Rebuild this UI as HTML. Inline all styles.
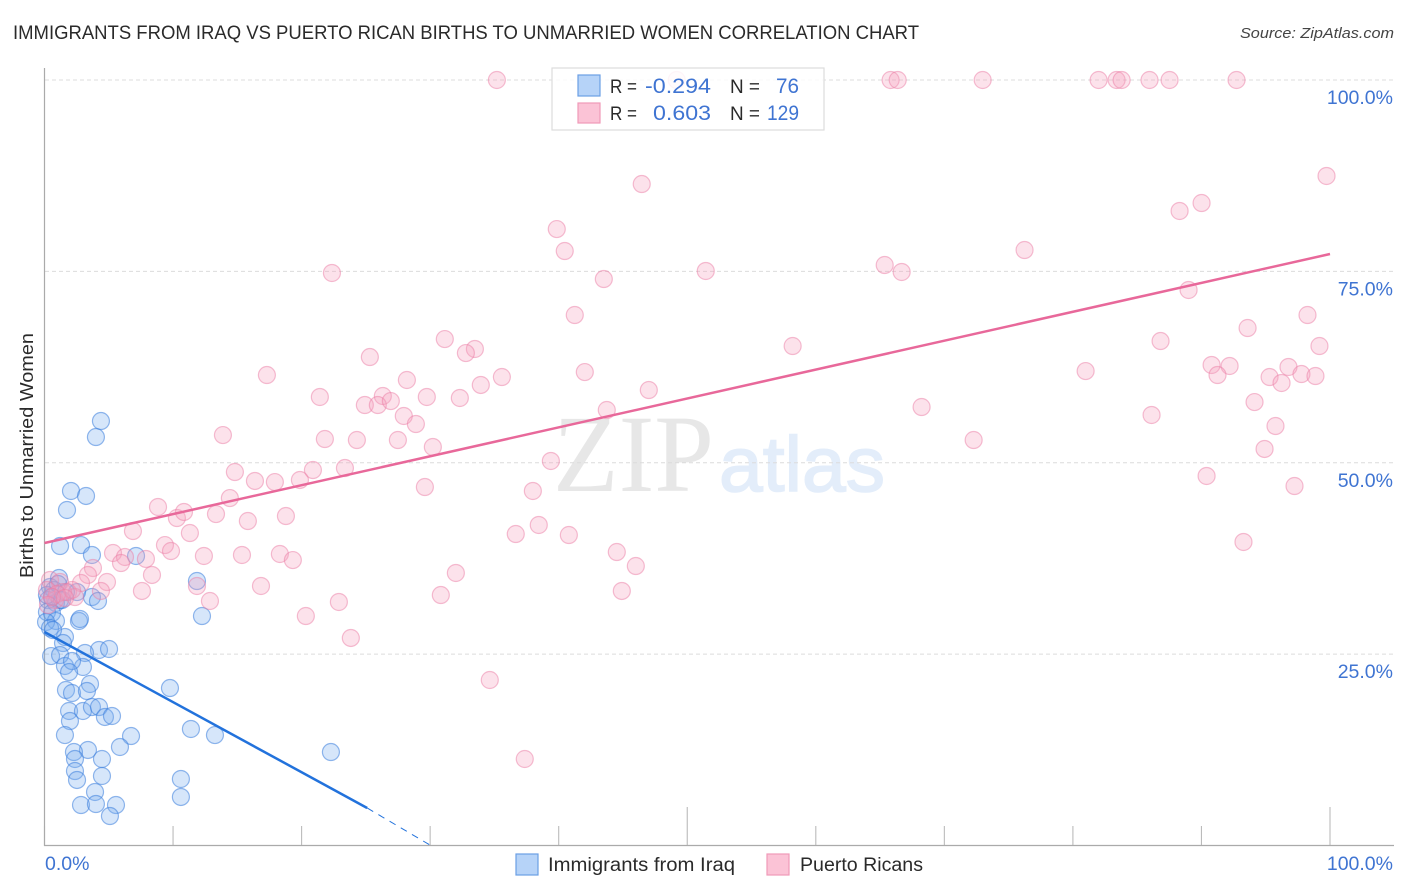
<!DOCTYPE html>
<html lang="en">
<head>
<meta charset="utf-8">
<title>Immigrants from Iraq vs Puerto Rican births to unmarried women correlation chart</title>
<style>
html,body{margin:0;padding:0;background:#fff;width:1406px;height:892px;overflow:hidden}
svg{display:block}
text{font-family:"Liberation Sans",sans-serif}
.blue{fill:#3f74d2}
.dark{fill:#2a2a2a}
</style>
</head>
<body>
<svg id="chart" xmlns="http://www.w3.org/2000/svg" width="1406" height="892" viewBox="0 0 1406 892">
  <text x="13" y="39" font-size="19" fill="#2a2a2a" textLength="906" lengthAdjust="spacingAndGlyphs">IMMIGRANTS FROM IRAQ VS PUERTO RICAN BIRTHS TO UNMARRIED WOMEN CORRELATION CHART</text>
  <text x="1394" y="38" font-size="15" font-style="italic" fill="#444" text-anchor="end" textLength="154" lengthAdjust="spacingAndGlyphs">Source: ZipAtlas.com</text>

  <g id="watermark">
    <text x="553" y="491" font-size="110" fill="#e7e7e7" textLength="161" lengthAdjust="spacingAndGlyphs" style="font-family:'Liberation Serif',serif">ZIP</text>
    <text x="719" y="491" font-size="78" fill="#e3edfa" stroke="#e3edfa" stroke-width="1.6" textLength="166" lengthAdjust="spacingAndGlyphs">atlas</text>
  </g>

  <g id="grid"></g>
  <g id="ticks"></g>
  <line x1="44.5" y1="68" x2="44.5" y2="846" stroke="#aaa" stroke-width="1.2"/>
  <line x1="44" y1="845.5" x2="1394" y2="845.5" stroke="#aaa" stroke-width="1.2"/>
  <g id="points-iraq"></g>
  <g id="points-pr"></g>
  <g id="trends"></g>
  <g id="tick-labels"></g>

  <text transform="translate(33,578) rotate(-90)" font-size="18.5" fill="#2a2a2a" textLength="245" lengthAdjust="spacingAndGlyphs">Births to Unmarried Women</text>

  <g>
    <rect x="552" y="68" width="272" height="62" fill="#fff" fill-opacity="0.85" stroke="#ddd" stroke-width="1.2"/>
    <rect x="578" y="75" width="22" height="21" fill="#b6d3f8" stroke="#6b9fe4" stroke-width="1.2"/>
    <rect x="578" y="103" width="22" height="20" fill="#fbc3d6" stroke="#f09ab8" stroke-width="1.2"/>
    <text x="610" y="93" font-size="19" class="dark" textLength="27" lengthAdjust="spacingAndGlyphs">R =</text>
    <text x="645" y="93" font-size="21" class="blue" textLength="66" lengthAdjust="spacingAndGlyphs">-0.294</text>
    <text x="730" y="93" font-size="19" class="dark" textLength="30" lengthAdjust="spacingAndGlyphs">N =</text>
    <text x="776" y="93" font-size="21" class="blue" textLength="23" lengthAdjust="spacingAndGlyphs">76</text>
    <text x="610" y="120" font-size="19" class="dark" textLength="27" lengthAdjust="spacingAndGlyphs">R =</text>
    <text x="653" y="120" font-size="21" class="blue" textLength="58" lengthAdjust="spacingAndGlyphs">0.603</text>
    <text x="730" y="120" font-size="19" class="dark" textLength="30" lengthAdjust="spacingAndGlyphs">N =</text>
    <text x="767" y="120" font-size="21" class="blue" textLength="32" lengthAdjust="spacingAndGlyphs">129</text>
  </g>

  <g>
    <rect x="516" y="854" width="22" height="21" fill="#b6d3f8" stroke="#6b9fe4" stroke-width="1.2"/>
    <text x="548" y="871" font-size="19" class="dark" textLength="187" lengthAdjust="spacingAndGlyphs">Immigrants from Iraq</text>
    <rect x="767" y="854" width="22" height="21" fill="#fbc3d6" stroke="#f09ab8" stroke-width="1.2"/>
    <text x="800" y="871" font-size="19" class="dark" textLength="123" lengthAdjust="spacingAndGlyphs">Puerto Ricans</text>
  </g>
</svg>
<script>
const iraqX = [4.39,4.00,2.06,3.23,1.75,1.21,2.84,3.69,7.12,1.13,11.86,12.25,3.69,4.16,2.53,2.68,2.76,1.59,1.44,0.51,1.21,4.24,5.02,3.15,2.99,1.59,2.14,1.91,9.76,1.67,2.14,3.54,3.30,1.91,2.99,3.69,4.24,4.70,5.25,1.98,1.59,6.73,5.87,3.38,2.29,2.37,4.47,2.37,2.53,4.47,3.93,2.84,4.00,5.56,5.09,11.39,13.26,10.61,10.61,22.28,0.43,0.74,0.27,0.89,1.21,0.58,1.67,0.19,0.58,0.89,0.12,0.43,0.66,0.19,1.36,1.05];
const iraqY = [55.45,53.36,46.31,45.66,43.83,39.12,39.25,37.95,37.82,34.94,34.55,29.98,32.46,31.94,33.11,29.33,29.59,27.24,26.45,24.75,24.88,25.54,25.67,25.15,23.32,23.45,24.10,22.66,20.57,20.31,19.92,21.10,20.18,17.57,17.57,18.09,18.09,16.79,16.92,16.26,14.43,14.30,12.87,12.48,12.21,11.30,11.30,9.73,8.56,9.08,6.99,5.29,5.42,5.29,3.85,15.22,14.43,8.69,6.34,12.21,33.77,33.38,32.07,31.68,32.07,32.46,33.11,30.50,30.37,29.33,29.20,28.41,28.15,32.72,32.07,34.16];
const puertoRicanX = [35.19,49.18,65.82,66.37,72.98,82.00,83.40,83.79,85.96,87.52,92.73,99.73,46.46,90.01,88.30,39.85,40.47,76.24,22.36,51.44,65.36,66.68,43.51,89.00,41.25,98.25,93.59,31.14,33.48,32.78,86.82,58.20,99.18,25.31,80.99,90.79,92.19,91.25,96.77,17.30,42.03,35.58,28.19,95.30,96.23,97.78,98.87,33.94,47.01,26.32,21.42,29.74,32.31,24.92,25.93,26.94,94.13,43.74,68.23,27.95,28.89,86.12,95.76,13.88,21.81,24.30,27.49,72.28,30.21,94.91,39.39,14.81,20.88,23.37,90.40,16.37,17.92,19.87,29.59,37.99,97.24,14.42,8.83,13.34,18.78,10.30,10.85,15.82,6.88,11.31,36.66,38.45,40.79,93.27,9.37,9.84,15.36,18.31,19.32,12.40,44.52,5.33,6.26,7.89,5.95,46.00,32.00,8.36,3.77,3.38,4.86,2.84,11.86,16.84,44.91,30.83,7.58,12.87,22.90,20.33,23.83,34.64,37.36,4.39,0.43,1.21,0.19,0.82,1.83,2.37,1.44,2.14,0.97,0.58,1.59,0.27];
const puertoRicanY = [100,100,100,100,100,100,100,100,100,100,100,87.46,86.41,83.93,82.89,80.53,77.66,77.79,74.79,75.05,75.83,74.92,74.00,72.57,69.30,69.30,67.60,66.16,64.86,64.33,65.90,65.25,65.25,63.81,61.98,62.77,62.64,61.46,62.51,61.46,61.85,61.20,60.81,61.20,60.42,61.59,61.33,60.16,59.50,58.72,58.59,58.59,58.46,57.54,57.54,58.06,57.93,56.89,57.28,56.11,55.06,56.24,54.80,53.62,53.10,52.97,52.97,52.97,52.06,51.80,50.23,48.79,49.05,49.31,48.27,47.62,47.48,47.75,46.83,46.31,46.96,45.39,44.22,43.30,43.04,42.78,43.57,42.39,41.08,40.82,40.69,41.87,40.56,39.65,39.25,38.47,37.95,38.08,37.29,37.82,38.34,38.21,37.69,37.43,36.90,36.51,35.60,35.34,36.25,35.34,34.42,34.29,33.90,33.90,33.25,32.72,33.25,31.94,31.81,29.98,27.11,21.62,11.30,33.25,34.68,34.42,33.38,32.07,33.11,32.46,33.11,33.38,32.85,32.46,32.33,31.42];
const iraqTrendX = [0, 25.1, 30.05];
const iraqTrendY = [27.89, 4.9, 0];
const puertoRicanTrendX = [0, 100];
const puertoRicanTrendY = [39.52, 77.27];
const xTickValues = [0,10,20,30,40,50,60,70,80,90,100];
const xMajorTicks = [50,100];
const yTickValues = [25,50,75,100];
const yTickLabels = ['25.0%','50.0%','75.0%','100.0%'];
const xTickLabels = ['0.0%','100.0%'];

const NS = 'http://www.w3.org/2000/svg';
function xPos(v){ return 44.5 + v * 12.855; }
function yPos(v){ return 845.5 - v * 7.655; }
function make(tag, parentId){
  const el = document.createElementNS(NS, tag);
  document.getElementById(parentId).appendChild(el);
  return el;
}

yTickValues.forEach(function(v, i){
  const g = make('line', 'grid');
  
  
  g.setAttribute('x1', 45);
  g.setAttribute('x2', 1393);
  g.setAttribute('y1', yPos(v));
  g.setAttribute('y2', yPos(v));
  g.setAttribute('stroke', '#dcdcdc');
  g.setAttribute('stroke-width', '1');
  g.setAttribute('stroke-dasharray', '4 3');

  const t = make('text', 'tick-labels');
  
  
  t.setAttribute('x', 1393);
  t.setAttribute('y', yPos(v) + 24);
  t.setAttribute('font-size', '19.5');
  t.setAttribute('text-anchor', 'end');
  t.setAttribute('class', 'blue');
  t.textContent = yTickLabels[i];
});

xTickValues.forEach(function(v){
  const tick = make('line', 'ticks');
  
  
  tick.setAttribute('x1', xPos(v));
  tick.setAttribute('x2', xPos(v));
  tick.setAttribute('y1', xMajorTicks.indexOf(v) >= 0 ? 807 : 826);
  tick.setAttribute('y2', 845);
  tick.setAttribute('stroke', '#bbb');
  tick.setAttribute('stroke-width', '1.1');
});

const xLabelLeft = make('text', 'tick-labels');


xLabelLeft.setAttribute('x', 45);
xLabelLeft.setAttribute('y', 870);
xLabelLeft.setAttribute('font-size', '19.5');
xLabelLeft.setAttribute('class', 'blue');
xLabelLeft.textContent = xTickLabels[0];

const xLabelRight = make('text', 'tick-labels');


xLabelRight.setAttribute('x', 1393);
xLabelRight.setAttribute('y', 870);
xLabelRight.setAttribute('font-size', '19.5');
xLabelRight.setAttribute('text-anchor', 'end');
xLabelRight.setAttribute('class', 'blue');
xLabelRight.textContent = xTickLabels[1];

iraqX.forEach(function(v, i){
  const c = make('circle', 'points-iraq');
  
  
  c.setAttribute('cx', xPos(v));
  c.setAttribute('cy', yPos(iraqY[i]));
  c.setAttribute('r', '8.5');
  c.setAttribute('fill', 'rgba(120,172,240,0.3)');
  c.setAttribute('stroke', 'rgba(58,125,220,0.55)');
  c.setAttribute('stroke-width', '1.2');
});

puertoRicanX.forEach(function(v, i){
  const c = make('circle', 'points-pr');
  
  
  c.setAttribute('cx', xPos(v));
  c.setAttribute('cy', yPos(puertoRicanY[i]));
  c.setAttribute('r', '8.5');
  c.setAttribute('fill', 'rgba(246,160,188,0.3)');
  c.setAttribute('stroke', 'rgba(236,125,165,0.5)');
  c.setAttribute('stroke-width', '1.2');
});

const iraqSolid = make('line', 'trends');


iraqSolid.setAttribute('x1', xPos(iraqTrendX[0]));
iraqSolid.setAttribute('y1', yPos(iraqTrendY[0]));
iraqSolid.setAttribute('x2', xPos(iraqTrendX[1]));
iraqSolid.setAttribute('y2', yPos(iraqTrendY[1]));
iraqSolid.setAttribute('stroke', '#2272dc');
iraqSolid.setAttribute('stroke-width', '2.5');

const iraqDash = make('line', 'trends');


iraqDash.setAttribute('x1', xPos(iraqTrendX[1]));
iraqDash.setAttribute('y1', yPos(iraqTrendY[1]));
iraqDash.setAttribute('x2', xPos(iraqTrendX[2]));
iraqDash.setAttribute('y2', yPos(iraqTrendY[2]));
iraqDash.setAttribute('stroke', '#2272dc');
iraqDash.setAttribute('stroke-width', '1');
iraqDash.setAttribute('stroke-dasharray', '7 6');

const prTrend = make('line', 'trends');


prTrend.setAttribute('x1', xPos(puertoRicanTrendX[0]));
prTrend.setAttribute('y1', yPos(puertoRicanTrendY[0]));
prTrend.setAttribute('x2', xPos(puertoRicanTrendX[1]));
prTrend.setAttribute('y2', yPos(puertoRicanTrendY[1]));
prTrend.setAttribute('stroke', '#e8689a');
prTrend.setAttribute('stroke-width', '2.5');
</script>
</body>
</html>
